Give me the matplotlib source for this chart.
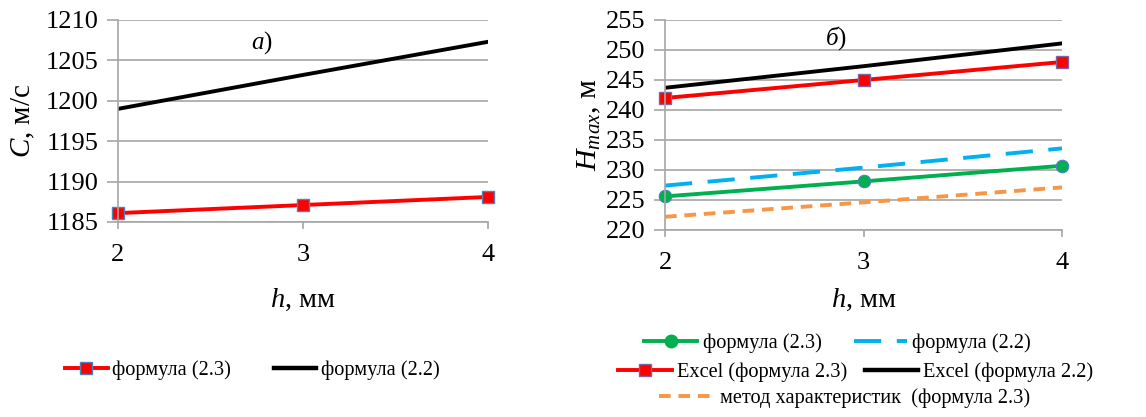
import matplotlib.pyplot as plt
from matplotlib import font_manager
from matplotlib.lines import Line2D

# make sure the Times-like family really is there
font_manager.findfont('Liberation Serif', fallback_to_default=False)

plt.rcParams['font.family'] = ['Liberation Serif', 'DejaVu Serif']
plt.rcParams['mathtext.fontset'] = 'custom'
plt.rcParams['mathtext.rm'] = 'Liberation Serif'
plt.rcParams['mathtext.it'] = 'Liberation Serif:italic'

# thickness h, mm
h = [2, 3, 4]

# a) wave speed C, m/s
c_f23 = [1186.1, 1187.1, 1188.1]
c_f22 = [1199.0, 1203.2, 1207.3]

# б) max pressure head Hmax, m
hm_f23 = [225.6, 228.1, 230.7]
hm_f22 = [227.4, 230.4, 233.6]
hm_xl23 = [242.0, 245.0, 248.0]
hm_xl22 = [243.7, 247.3, 251.1]
hm_char = [222.2, 224.6, 227.1]

c_ticks = [1185, 1190, 1195, 1200, 1205, 1210]
hm_ticks = [220, 225, 230, 235, 240, 245, 250, 255]

GRID = '#a6a6a6'
FS_LEG = 14.7
fig = plt.figure(figsize=(11.46, 4.17), dpi=100)
ax1 = fig.add_axes([118 / 1146, 1 - 222 / 417, 370 / 1146, 202 / 417])
ax2 = fig.add_axes([665 / 1146, 1 - 230 / 417, 397 / 1146, 210 / 417])


def style(ax, yticks, xpad):
    ax.set_xlim(2, 4)
    ax.set_xticks(h)
    ax.set_ylim(yticks[0], yticks[-1])
    ax.set_yticks(yticks)
    ax.grid(axis='y', color=GRID, lw=1.2)
    ax.spines['top'].set_visible(False)
    ax.spines['right'].set_visible(False)
    for s in ('left', 'bottom'):
        ax.spines[s].set_color(GRID)
        ax.spines[s].set_linewidth(1.2)
    ax.tick_params(colors=GRID, labelcolor='black', labelsize=19, direction='out', width=1.2)
    ax.tick_params(axis='y', length=8, pad=6)
    ax.tick_params(axis='x', length=5, pad=11)
    ax.set_xlabel('$h$, мм', fontsize=20.5, labelpad=xpad)


# a)
ax1.plot(h, c_f22, color='black', lw=2.8)
ax1.plot(h, c_f23, color='red', lw=2.8, marker='s', ms=9, mfc='red', mec='#4f81bd',
         mew=1, clip_on=False)
style(ax1, c_ticks, 15)
ax1.set_ylabel('$C$, м/с', fontsize=21, labelpad=6)
ax1.text(2.78, 1207.2, '$а$)', fontsize=18, ha='center', va='center')

handles = [Line2D([], [], color='red', lw=2.8, marker='s', ms=9, mfc='red', mec='#4f81bd'),
           Line2D([], [], color='black', lw=3.2)]
fig.legend(handles, ['формула (2.3)', 'формула (2.2)'], loc='center', bbox_to_anchor=(0.22, 0.113),
           ncol=2, frameon=False, fontsize=FS_LEG, handlelength=2.1, handletextpad=0.2,
           columnspacing=2.1)

# б)
ax2.plot(h, hm_xl22, color='black', lw=2.8)
ax2.plot(h, hm_xl23, color='red', lw=2.8, marker='s', ms=9, mfc='red', mec='#8064a2',
         mew=1, clip_on=False)
ax2.plot(h, hm_f22, color='#00b0f0', lw=2.8, dashes=(7, 4))
ax2.plot(h, hm_f23, color='#00b050', lw=2.8, marker='o', ms=9, mec='#4f81bd', mew=0.8,
         clip_on=False)
ax2.plot(h, hm_char, color='#f79646', lw=2.8, dashes=(3, 2))
style(ax2, hm_ticks, 9)
ax2.set_ylabel('$H_{max}$, м', fontsize=21.5, labelpad=2)
ax2.text(2.86, 252, '$б$)', fontsize=18, ha='center', va='center')

# legend rows are centred one by one, as Excel does
row1 = [Line2D([], [], color='#00b050', lw=2.8, marker='o', ms=9),
        Line2D([], [], color='#00b0f0', lw=2.8, dashes=(7, 4))]
row2 = [Line2D([], [], color='red', lw=2.8, marker='s', ms=9, mfc='red', mec='#8064a2'),
        Line2D([], [], color='black', lw=3.2)]
row3 = [Line2D([], [], color='#f79646', lw=2.8, dashes=(3, 2))]
fig.legend(row1, ['формула (2.3)', 'формула (2.2)'], loc='center', bbox_to_anchor=(0.731, 0.177),
           ncol=2, frameon=False, fontsize=FS_LEG, handlelength=2.6, handletextpad=0.25,
           columnspacing=1.6)
fig.legend(row2, ['Excel (формула 2.3)', 'Excel (формула 2.2)'], loc='center',
           bbox_to_anchor=(0.747, 0.108), ncol=2, frameon=False, fontsize=FS_LEG,
           handlelength=2.6, handletextpad=0.25, columnspacing=0.9)
fig.legend(row3, ['метод характеристик  (формула 2.3)'], loc='center',
           bbox_to_anchor=(0.737, 0.046), frameon=False, fontsize=FS_LEG,
           handlelength=2.6, handletextpad=0.35)

fig.savefig('out.png', dpi=100)
